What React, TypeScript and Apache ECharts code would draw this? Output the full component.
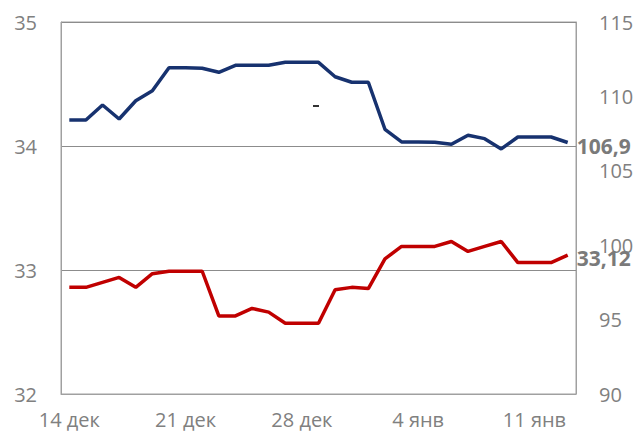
import React, { useEffect, useRef } from "react";
import * as echarts from "echarts";

const categories = [
  "14 дек", "15 дек", "16 дек", "17 дек", "18 дек", "19 дек", "20 дек",
  "21 дек", "22 дек", "23 дек", "24 дек", "25 дек", "26 дек", "27 дек",
  "28 дек", "29 дек", "30 дек", "31 дек", "1 янв", "2 янв", "3 янв",
  "4 янв", "5 янв", "6 янв", "7 янв", "8 янв", "9 янв", "10 янв",
  "11 янв", "12 янв", "13 янв",
];

// Blue series, right axis
const blueValues = [
  108.41, 108.41, 109.42, 108.48, 109.71, 110.38, 111.93, 111.93, 111.89, 111.62,
  112.09, 112.09, 112.09, 112.29, 112.29, 112.29, 111.32, 110.95, 110.95, 107.79,
  106.94, 106.94, 106.92, 106.78, 107.39, 107.16, 106.47, 107.27, 107.27, 107.27,
  106.9,
];

// Red series, left axis
const redValues = [
  32.86, 32.86, 32.9, 32.94, 32.86, 32.97, 32.99, 32.99, 32.99, 32.63,
  32.63, 32.69, 32.66, 32.57, 32.57, 32.57, 32.84, 32.86, 32.85, 33.09,
  33.19, 33.19, 33.19, 33.23, 33.15, 33.19, 33.23, 33.06, 33.06, 33.06,
  33.12,
];

const leftTicks = { min: 32, max: 35, interval: 1 };
const rightTicks = { min: 90, max: 115, interval: 5 };

const FONT = "'Open Sans', 'Noto Sans', sans-serif";
const GRAY = "#808080";

export default function App() {
  const ref = useRef<HTMLDivElement>(null);

  useEffect(() => {
    if (!ref.current) return;
    const chart = echarts.init(ref.current, null, { renderer: "svg" });
    chart.setOption({
      animation: false,
      backgroundColor: "#ffffff",
      textStyle: { fontFamily: FONT },
      grid: {
        left: 61,
        right: 63,
        top: 22,
        bottom: 38,
        show: true,
        borderColor: "#a0a0a0",
        borderWidth: 1,
      },
      xAxis: {
        type: "category",
        data: categories,
        boundaryGap: true,
        axisLine: { show: true, lineStyle: { color: "#a0a0a0", width: 1 } },
        axisTick: { show: false },
        axisLabel: {
          interval: 6,
          color: GRAY,
          fontSize: 20,
          fontFamily: FONT,
          margin: 15,
        },
        splitLine: { show: false },
      },
      yAxis: [
        {
          type: "value",
          position: "left",
          min: leftTicks.min,
          max: leftTicks.max,
          interval: leftTicks.interval,
          axisLine: { show: true, lineStyle: { color: "#a0a0a0" } },
          axisTick: { show: false },
          axisLabel: { color: GRAY, fontSize: 20, fontFamily: FONT, margin: 24 },
          splitLine: { show: true, lineStyle: { color: "#8c8c8c", width: 1 } },
        },
        {
          type: "value",
          position: "right",
          min: rightTicks.min,
          max: rightTicks.max,
          interval: rightTicks.interval,
          axisLine: { show: true, lineStyle: { color: "#a0a0a0" } },
          axisTick: { show: false },
          axisLabel: { color: GRAY, fontSize: 20, fontFamily: FONT, margin: 23 },
          splitLine: { show: false },
        },
      ],
      series: [
        {
          type: "line",
          yAxisIndex: 1,
          data: blueValues,
          symbol: "none",
          lineStyle: { color: "#17326f", width: 3.5 },
          itemStyle: { color: "#17326f" },
          endLabel: {
            show: true,
            distance: 9,
            offset: [0, 3],
            formatter: (p: any) => String(p.value).replace(".", ","),
            color: "#7a7a7a",
            fontSize: 21,
            fontWeight: "bold",
            fontFamily: FONT,
          },
        },
        {
          type: "line",
          yAxisIndex: 0,
          data: redValues,
          symbol: "none",
          lineStyle: { color: "#c00000", width: 3.5 },
          itemStyle: { color: "#c00000" },
          endLabel: {
            show: true,
            distance: 9,
            offset: [0, 3],
            formatter: (p: any) => String(p.value).replace(".", ","),
            color: "#7a7a7a",
            fontSize: 21,
            fontWeight: "bold",
            fontFamily: FONT,
          },
        },
      ],
      graphic: [
        {
          type: "rect",
          shape: { x: 313, y: 105, width: 6, height: 2 },
          style: { fill: "#333333" },
        },
      ],
    });
    return () => chart.dispose();
  }, []);

  return (
    <div
      style={{
        position: "fixed",
        left: 0,
        top: 0,
        width: 639,
        height: 432,
        overflow: "hidden",
        background: "#ffffff",
      }}
    >
      <div ref={ref} style={{ width: 639, height: 432 }} />
    </div>
  );
}
